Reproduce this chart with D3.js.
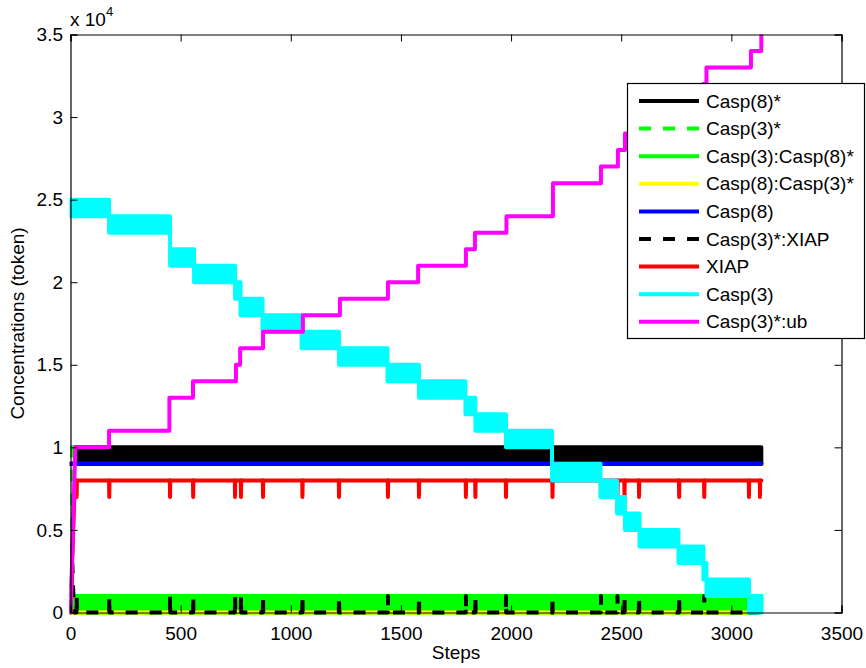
<!DOCTYPE html>
<html>
<head>
<meta charset="utf-8">
<script src="https://cdn.jsdelivr.net/npm/d3@7"></script>
<style>
  body { margin: 0; background: #fff; }
  svg { display: block; }
  text { font-family: 'Liberation Sans', Arial, Helvetica, sans-serif; fill: #000; }
</style>
</head>
<body>
<svg id="chart" width="866" height="668"></svg>
<script>
// ---------------- DATA ----------------
const seriesNames = ["Casp(8)*", "Casp(3)*", "Casp(3):Casp(8)*", "Casp(8):Casp(3)*",
                     "Casp(8)", "Casp(3)*:XIAP", "XIAP", "Casp(3)", "Casp(3)*:ub"];
const seriesColors = ["#000000", "#00ff00", "#00ff00", "#ffff00",
                      "#0000ff", "#000000", "#ff0000", "#00ffff", "#ff00ff"];
const seriesDashed = [false, true, false, false, false, true, false, false, false];

const xTicks = [0, 500, 1000, 1500, 2000, 2500, 3000, 3500];
const xTickLabels = ["0", "500", "1000", "1500", "2000", "2500", "3000", "3500"];
const yTicks = [0, 5000, 10000, 15000, 20000, 25000, 30000, 35000];
const yTickLabels = ["0", "0.5", "1", "1.5", "2", "2.5", "3", "3.5"];

const lastStep = 3136;

// Casp(3): fluctuating band [upper-1000, upper], stepping down
const casp3Steps = [0, 175, 452, 561, 747, 772, 872, 1049, 1219, 1439, 1582, 1793, 1838,
                    1977, 2186, 2406, 2481, 2517, 2583, 2760, 2873, 2887, 3080];
const casp3Upper = [25000, 24000, 22000, 21000, 20000, 19000, 18000, 17000, 16000, 15000,
                    14000, 13000, 12000, 11000, 9000, 8000, 7000, 6000, 5000, 4000, 3000, 2000, 1000];
const casp3Lower = [24000, 23000, 21000, 20000, 19000, 18000, 17000, 16000, 15000, 14000,
                    13000, 12000, 11000, 10000, 8000, 7000, 6000, 5000, 4000, 3000, 2000, 1000, 0];

// Casp(3)*:ub: rises then steps up
const ubSteps = [0, 22, 175, 449, 556, 751, 770, 874, 1055, 1223, 1441, 1578, 1795, 1836,
                 1979, 2190, 2408, 2485, 2517, 2583, 2760, 2873, 2887, 3089, 3136];
const ubValues = [0, 10000, 11000, 13000, 14000, 15000, 16000, 17000, 18000, 19000, 20000,
                  21000, 22000, 23000, 24000, 26000, 27000, 28000, 29000, 30000, 31000,
                  32000, 33000, 34000, 35000];

// Casp(8)*: fluctuating band
const casp8sSteps = [20, 3136];
const casp8sUpper = [10000, 10000];
const casp8sLower = [9000, 9000];

// Casp(3):Casp(8)*: fluctuating band
const c3c8Steps = [20, 3136];
const c3c8Upper = [1000, 1000];
const c3c8Lower = [0, 0];

// Casp(3)*
const casp3sSteps = [0, 8, 3136];
const casp3sValues = [10000, 0, 0];

// Casp(8):Casp(3)*
const c8c3Steps = [0, 3136];
const c8c3Values = [0, 0];

// Casp(8)
const casp8Steps = [0, 3136];
const casp8Values = [9000, 9000];

// XIAP: base level with short dips
const xiapStart = [[0, 0], [20, 8000]];
const xiapLevel = 8000;
const xiapDipLevel = 7000;
const xiapDipSteps = [28, 176, 452, 557, 747, 774, 874, 1053, 1219, 1441, 1582, 1795, 1838,
                      1977, 2188, 2408, 2483, 2515, 2581, 2763, 2877, 3080, 3130];

// Casp(3)*:XIAP: zero with short spikes
const cxStart = [[0, 0], [8, 3000], [16, 0]];
const cxLevel = 0;
const cxSpikeLevel = 1000;
const cxSpikeSteps = [28, 176, 452, 557, 747, 774, 874, 1053, 1219, 1441, 1582, 1795, 1838,
                      1977, 2188, 2408, 2483, 2515, 2581, 2763, 2877, 3080, 3130];

// ---------------- CHART ----------------
const svg = d3.select("#chart");
const L = 70.5, R = 841.5, T = 34.5, B = 612.5;
const x = d3.scaleLinear().domain([0, 3500]).range([L, R]);
const y = d3.scaleLinear().domain([0, 35000]).range([B, T]);

svg.append("defs").append("clipPath").attr("id", "clip")
  .append("rect").attr("x", L - 1).attr("y", T).attr("width", R - L + 12).attr("height", B - T + 8);

const plot = svg.append("g").attr("clip-path", "url(#clip)");

function stepPts(steps, vals, endStep) {
  const pts = [];
  for (let i = 0; i < steps.length; i++) {
    if (i > 0) pts.push([steps[i], vals[i - 1]]);
    pts.push([steps[i], vals[i]]);
  }
  if (endStep !== undefined && endStep > steps[steps.length - 1]) pts.push([endStep, vals[vals.length - 1]]);
  return pts;
}
function bandPts(steps, up, lo, endStep) {
  const pts = [];
  for (let i = 0; i < steps.length; i++) {
    if (i > 0) pts.push([steps[i], up[i - 1], lo[i - 1]]);
    pts.push([steps[i], up[i], lo[i]]);
  }
  if (endStep !== undefined && endStep > steps[steps.length - 1]) pts.push([endStep, up[up.length - 1], lo[lo.length - 1]]);
  return pts;
}
function eventPts(start, level, evLevel, evSteps, endStep) {
  const pts = start.slice();
  evSteps.forEach(t => { pts.push([t - 1, level], [t, evLevel], [t + 1, level]); });
  pts.push([endStep, level]);
  return pts;
}

const line = d3.line().x(d => x(d[0])).y(d => y(d[1]));
const area = d3.area().x(d => x(d[0])).y0(d => y(d[2])).y1(d => y(d[1]));
const LW = 4;

function drawLine(pts, i, w) {
  plot.append("path").attr("d", line(pts))
    .attr("fill", "none").attr("stroke", seriesColors[i]).attr("stroke-width", w || LW)
    .attr("stroke-linejoin", "round").attr("stroke-linecap", seriesDashed[i] ? "butt" : "round")
    .attr("stroke-dasharray", seriesDashed[i] ? "12,12" : null);
}
function drawBand(pts, i) {
  plot.append("path").attr("d", area(pts))
    .attr("fill", seriesColors[i]).attr("stroke", seriesColors[i]).attr("stroke-width", LW)
    .attr("stroke-linejoin", "round");
}

// draw order = legend order
drawBand(bandPts(casp8sSteps, casp8sUpper, casp8sLower, lastStep), 0);
drawLine(stepPts(casp3sSteps, casp3sValues, lastStep), 1);
drawBand(bandPts(c3c8Steps, c3c8Upper, c3c8Lower, lastStep), 2);
drawLine(stepPts(c8c3Steps, c8c3Values, lastStep), 3);
drawLine(stepPts(casp8Steps, casp8Values, lastStep), 4, 4.5);
drawLine(eventPts(cxStart, cxLevel, cxSpikeLevel, cxSpikeSteps, lastStep), 5);
drawLine(eventPts(xiapStart, xiapLevel, xiapDipLevel, xiapDipSteps, lastStep), 6);
drawBand(bandPts(casp3Steps, casp3Upper, casp3Lower, lastStep), 7);
{
  // Casp(3)*:ub: linear initial rise then steps
  const pts = [[ubSteps[0], ubValues[0]]];
  for (let i = 1; i < ubSteps.length; i++) {
    if (i > 1) pts.push([ubSteps[i], ubValues[i - 1]]);
    pts.push([ubSteps[i], ubValues[i]]);
  }
  drawLine(pts, 8);
}

// ---------------- AXES ----------------
const fs = 19;
const axB = svg.append("g").attr("transform", `translate(0,${B})`)
  .call(d3.axisBottom(x).tickValues(xTicks).tickFormat((d, i) => xTickLabels[i]).tickSize(-7).tickPadding(14));
const axL = svg.append("g").attr("transform", `translate(${L},0)`)
  .call(d3.axisLeft(y).tickValues(yTicks).tickFormat((d, i) => yTickLabels[i]).tickSize(-7).tickPadding(7.5));
const axT = svg.append("g").attr("transform", `translate(0,${T})`)
  .call(d3.axisTop(x).tickValues(xTicks).tickFormat("").tickSize(-7));
const axR = svg.append("g").attr("transform", `translate(${R},0)`)
  .call(d3.axisRight(y).tickValues(yTicks).tickFormat("").tickSize(-7));
[axB, axL, axT, axR].forEach(g => {
  g.selectAll("path.domain").attr("stroke", "#000").attr("stroke-width", 1.2);
  g.selectAll(".tick line").attr("stroke", "#000").attr("stroke-width", 1);
  g.selectAll("text").style("font-size", fs + "px").style("font-family", "'Liberation Sans', Arial, sans-serif");
});

svg.append("text").attr("x", (L + R) / 2).attr("y", 659).attr("text-anchor", "middle")
  .style("font-size", fs + "px").text("Steps");
svg.append("text").attr("transform", `translate(24,${(T + B) / 2}) rotate(-90)`).attr("text-anchor", "middle")
  .style("font-size", fs + "px").text("Concentrations (token)");

const mult = svg.append("text").attr("x", 70).attr("y", 26).style("font-size", fs + "px");
mult.append("tspan").text("x 10");
mult.append("tspan").attr("dy", -10).style("font-size", "13px").text("4");

// ---------------- LEGEND ----------------
const lg = svg.append("g");
lg.append("rect").attr("x", 627.5).attr("y", 83.5).attr("width", 237).attr("height", 255)
  .attr("fill", "#fff").attr("stroke", "#000").attr("stroke-width", 1.2);
seriesNames.forEach((name, i) => {
  const cy = 101 + i * 27.6;
  lg.append("line").attr("x1", 639).attr("x2", 699).attr("y1", cy).attr("y2", cy)
    .attr("stroke", seriesColors[i]).attr("stroke-width", LW)
    .attr("stroke-dasharray", seriesDashed[i] ? "12,12" : null);
  lg.append("text").attr("x", 706).attr("y", cy).attr("dy", "0.35em")
    .style("font-size", fs + "px").text(name);
});
</script>
</body>
</html>
